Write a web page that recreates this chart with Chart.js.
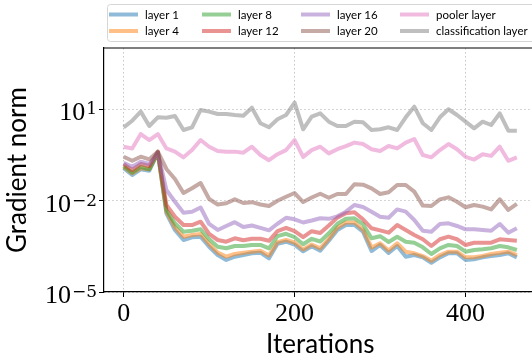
<!DOCTYPE html>
<html>
<head>
<meta charset="utf-8">
<script src="https://cdn.jsdelivr.net/npm/chart.js@4"></script>
<style>
  html, body { margin: 0; padding: 0; background: #fff; overflow: hidden; }
  #wrap { width: 532px; height: 363px; overflow: hidden; }
</style>
</head>
<body>
<div id="wrap"><canvas id="chart" width="540" height="363"></canvas></div>
<script>
// iterations on the x axis
const iterations = [0, 10, 20, 30, 40, 50, 60, 70, 80, 90, 100, 110, 120, 130, 140, 150, 160, 170, 180, 190,
  200, 210, 220, 230, 240, 250, 260, 270, 280, 290, 300, 310, 320, 330, 340, 350, 360, 370, 380, 390,
  400, 410, 420, 430, 440, 450, 460];

// gradient norms
const layer1 = [0.114, 0.0686, 0.105, 0.0948, 0.361, 0.0038, 0.00108, 0.000507, 0.000621, 0.00065,
  0.000305, 0.000163, 0.000112, 0.000144, 0.000163, 0.000186, 0.000195, 0.000127, 0.000384, 0.000446,
  0.000356, 0.000216, 0.000315, 0.000226, 0.000481, 0.00108, 0.00157, 0.00157, 0.00095, 0.000221,
  0.000348, 0.00019, 0.000322, 0.000144, 0.000163, 0.000137, 0.0000914, 0.000137, 0.000186, 0.000186,
  0.000112, 0.000118, 0.000137, 0.000151, 0.000163, 0.000186, 0.000137];
const layer4 = [0.128, 0.078, 0.114, 0.105, 0.369, 0.0043, 0.00132, 0.00065, 0.00074, 0.0008,
  0.000375, 0.000195, 0.000144, 0.000176, 0.000195, 0.00021, 0.000226, 0.000157, 0.00043, 0.000507,
  0.00042, 0.000247, 0.00036, 0.000271, 0.000555, 0.00128, 0.0019, 0.0019, 0.0011, 0.000288,
  0.000395, 0.00023, 0.000395, 0.00021, 0.000186, 0.000151, 0.000106, 0.000163, 0.00021, 0.00021,
  0.000137, 0.000137, 0.000151, 0.000176, 0.000195, 0.00021, 0.000163];
const layer8 = [0.135, 0.0815, 0.128, 0.105, 0.369, 0.0049, 0.00179, 0.00095, 0.00102, 0.00114,
  0.000535, 0.000305, 0.000271, 0.000322, 0.000322, 0.000348, 0.000348, 0.000271, 0.000676, 0.00081,
  0.000627, 0.000369, 0.000555, 0.000453, 0.00084, 0.00172, 0.00253, 0.00261, 0.00167, 0.000576,
  0.000676, 0.000436, 0.00065, 0.000446, 0.000413, 0.000292, 0.000176, 0.000271, 0.000348, 0.000322,
  0.00021, 0.000238, 0.000251, 0.000271, 0.000322, 0.000292, 0.000238];
const layer12 = [0.157, 0.1, 0.157, 0.135, 0.40, 0.0071, 0.00294, 0.00157, 0.00157, 0.00202,
  0.0008, 0.000507, 0.000446, 0.000576, 0.000495, 0.000555, 0.000555, 0.000477, 0.000985, 0.00127,
  0.000985, 0.000627, 0.000985, 0.00086, 0.00151, 0.00275, 0.0038, 0.00413, 0.00242, 0.00123,
  0.00105, 0.00088, 0.00157, 0.00108, 0.00074, 0.000535, 0.000322, 0.000535, 0.00065, 0.000535,
  0.000348, 0.000413, 0.000413, 0.000413, 0.000535, 0.000507, 0.000481];
const layer16 = [0.173, 0.128, 0.187, 0.157, 0.369, 0.0221, 0.0091, 0.00398, 0.0043, 0.0059,
  0.0017, 0.00108, 0.00146, 0.00195, 0.00135, 0.00151, 0.00127, 0.00105, 0.00173, 0.00271,
  0.00242, 0.0019, 0.00221, 0.00261, 0.00251, 0.00303, 0.0043, 0.0071, 0.0061, 0.0043,
  0.00294, 0.00271, 0.0051, 0.0043, 0.0023, 0.00102, 0.00095, 0.0017, 0.00179, 0.00146,
  0.00114, 0.00114, 0.00108, 0.00102, 0.0017, 0.00088, 0.00123];
const layer20 = [0.273, 0.20, 0.273, 0.224, 0.40, 0.108, 0.0507, 0.0176, 0.0251, 0.0375,
  0.0112, 0.0074, 0.0081, 0.0109, 0.0083, 0.0088, 0.0074, 0.0066, 0.0098, 0.0133,
  0.0176, 0.0089, 0.0125, 0.0167, 0.0123, 0.0163, 0.0163, 0.0342, 0.033, 0.0251,
  0.0163, 0.0187, 0.0322, 0.0322, 0.0195, 0.0068, 0.0066, 0.0109, 0.0127, 0.0091,
  0.006, 0.0071, 0.0063, 0.0051, 0.0109, 0.0049, 0.0077];
const poolerLayer = [0.58, 0.51, 1.51, 0.96, 1.51, 0.51, 0.40, 0.26, 0.45, 0.96,
  0.58, 0.42, 0.40, 0.40, 0.37, 0.58, 0.31, 0.21, 0.33, 0.45,
  0.96, 0.27, 0.45, 0.58, 0.35, 0.48, 0.61, 0.79, 0.71, 0.48,
  0.42, 0.61, 0.51, 0.79, 1.04, 0.31, 0.26, 0.45, 0.71, 0.48,
  0.27, 0.22, 0.33, 0.29, 0.58, 0.20, 0.26];
const classificationLayer = [2.51, 4.13, 8.2, 2.77, 5.35, 5.19, 5.9, 2.05, 2.51, 9.3,
  8.2, 6.86, 6.86, 6.36, 6.03, 11.0, 3.4, 2.51, 4.6, 6.36,
  16.1, 2.16, 5.6, 7.2, 3.84, 2.77, 2.77, 3.84, 3.66, 2.05,
  2.16, 2.51, 2.05, 5.35, 11.9, 3.4, 2.05, 5.35, 9.8, 6.36,
  3.84, 2.33, 3.84, 2.99, 7.2, 1.94, 1.94];

const seriesLabels = ['layer 1', 'layer 4', 'layer 8', 'layer 12', 'layer 16', 'layer 20', 'pooler layer', 'classification layer'];
const seriesValues = [layer1, layer4, layer8, layer12, layer16, layer20, poolerLayer, classificationLayer];
const seriesColors = [
  'rgba(31,119,180,0.5)', 'rgba(255,127,14,0.5)', 'rgba(44,160,44,0.5)', 'rgba(214,39,40,0.5)',
  'rgba(148,103,189,0.5)', 'rgba(140,86,75,0.5)', 'rgba(227,119,194,0.5)', 'rgba(127,127,127,0.5)'
];

// axis ticks
const xTickValues = [0, 200, 400];
const yTickValues = [1e-5, 1e-2, 1e1];
const yTickExponents = ['\u22125', '\u22122', '1'];

const sansFont = 'Lato';
const serifFont = '"Liberation Serif"';

// matplotlib-like legend box: 4 columns, filled column first
const boxLegend = {
  id: 'boxLegend',
  afterDraw(chart) {
    const ctx = chart.ctx;
    ctx.save();
    ctx.beginPath();
    ctx.roundRect(107.5, 4.5, 450, 37, 3);
    ctx.fillStyle = 'rgba(255,255,255,0.8)';
    ctx.fill();
    ctx.strokeStyle = '#d6d6d6';
    ctx.lineWidth = 1;
    ctx.stroke();

    const colX = [109, 202, 301, 400];
    const rowY = [14.5, 31];
    ctx.font = '11.5px ' + sansFont;
    ctx.textBaseline = 'middle';
    ctx.fillStyle = '#000';
    chart.data.datasets.forEach((ds, i) => {
      const x = colX[Math.floor(i / 2)];
      const y = rowY[i % 2];
      ctx.beginPath();
      ctx.moveTo(x, y);
      ctx.lineTo(x + 29, y);
      ctx.strokeStyle = ds.borderColor;
      ctx.lineWidth = 4;
      ctx.stroke();
      ctx.fillText(ds.label, x + 36, y + 0.5);
    });
    ctx.restore();
  }
};

// top spine and 10^n labels on the log axis
const frameAndLogLabels = {
  id: 'frameAndLogLabels',
  afterDraw(chart) {
    const ctx = chart.ctx;
    const area = chart.chartArea;
    const y = chart.scales.y;
    ctx.save();
    ctx.strokeStyle = '#000';
    ctx.lineWidth = 1.2;
    ctx.beginPath();
    ctx.moveTo(area.left, area.top);
    ctx.lineTo(area.right, area.top);
    ctx.stroke();

    ctx.fillStyle = '#000';
    ctx.textBaseline = 'alphabetic';
    ctx.textAlign = 'right';
    yTickValues.forEach((v, i) => {
      const py = y.getPixelForValue(v);
      const right = 97;
      ctx.font = '17px "DejaVu Serif"';
      const expW = ctx.measureText(yTickExponents[i]).width;
      ctx.fillText(yTickExponents[i], right, py + 5);
      ctx.font = '26px ' + serifFont;
      ctx.fillText('10', right - expW - 1, py + 11);
    });
    ctx.restore();
  }
};

const datasets = seriesLabels.map((label, i) => ({
  label: label,
  data: iterations.map((it, j) => ({ x: it, y: seriesValues[i][j] })),
  borderColor: seriesColors[i],
  backgroundColor: seriesColors[i],
  borderWidth: 4,
  borderJoinStyle: 'round',
  pointRadius: 0,
  tension: 0,
  fill: false,
  order: seriesLabels.length - i
}));

new Chart(document.getElementById('chart'), {
  type: 'line',
  data: { datasets: datasets },
  options: {
    responsive: false,
    animation: false,
    devicePixelRatio: 1,
    layout: { padding: { top: 48, right: 3.5, left: 0, bottom: 0 } },
    plugins: {
      legend: { display: false },
      tooltip: { enabled: false }
    },
    scales: {
      x: {
        type: 'linear',
        min: -23,
        max: 483,
        afterBuildTicks: (scale) => { scale.ticks = xTickValues.map(v => ({ value: v })); },
        afterFit: (scale) => { scale.height = 71; },
        ticks: {
          color: '#000',
          font: { family: 'Liberation Serif', size: 26 },
          padding: 2,
          maxRotation: 0,
          autoSkip: false
        },
        grid: {
          color: '#c8c8c8',
          lineWidth: 1,
          tickColor: '#000',
          tickLength: 5,
          tickWidth: 1
        },
        border: { color: '#000', width: 1.2, dash: [1.5, 2.5] },
        title: {
          display: true,
          text: 'Iterations',
          color: '#000',
          font: { family: sansFont, size: 26 },
          padding: { top: 0, bottom: 3 }
        }
      },
      y: {
        type: 'logarithmic',
        min: 1e-5,
        max: 1e3,
        afterBuildTicks: (scale) => { scale.ticks = yTickValues.map(v => ({ value: v })); },
        afterFit: (scale) => { scale.width = 104; },
        ticks: { display: false },
        grid: {
          color: '#c8c8c8',
          lineWidth: 1,
          tickColor: '#000',
          tickLength: 5,
          tickWidth: 1
        },
        border: { color: '#000', width: 1.2, dash: [1.5, 2.5] },
        title: {
          display: true,
          text: 'Gradient norm',
          color: '#000',
          font: { family: sansFont, size: 26 },
          padding: { top: 2, bottom: 0 }
        }
      }
    }
  },
  plugins: [boxLegend, frameAndLogLabels]
});
</script>
</body>
</html>
